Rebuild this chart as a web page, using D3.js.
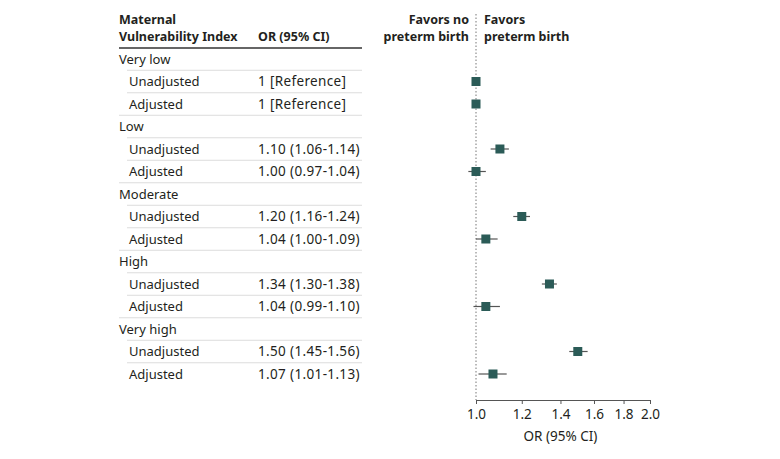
<!DOCTYPE html>
<head>
  <meta charset="utf-8">
  <script src="https://d3js.org/d3.v7.min.js"></script>
  <style>
    body { margin: 0; background: #fff; }
    svg { display: block; font-family: "Noto Sans", sans-serif; }
  </style>
</head>
<body>
  <svg width="780" height="459"></svg>
  <script>
    // data
    var groups = ["Very low", "Low", "Moderate", "High", "Very high"];
    var models = ["Unadjusted", "Adjusted"];
    var orValues = [1, 1, 1.10, 1.00, 1.20, 1.04, 1.34, 1.04, 1.50, 1.07];
    var ciLow = [null, null, 1.06, 0.97, 1.16, 1.00, 1.30, 0.99, 1.45, 1.01];
    var ciHigh = [null, null, 1.14, 1.04, 1.24, 1.09, 1.38, 1.10, 1.56, 1.13];
    var orLabels = ["1 [Reference]", "1 [Reference]", "1.10 (1.06-1.14)", "1.00 (0.97-1.04)",
      "1.20 (1.16-1.24)", "1.04 (1.00-1.09)", "1.34 (1.30-1.38)", "1.04 (0.99-1.10)",
      "1.50 (1.45-1.56)", "1.07 (1.01-1.13)"];
    var xTicks = [1.0, 1.2, 1.4, 1.6, 1.8, 2.0];

    // build rows: group heading then its two models
    var rows = [];
    var k = 0;
    groups.forEach(function(g) {
      rows.push({type: "group", label: g});
      models.forEach(function(m) {
        rows.push({type: "model", label: m, or: orValues[k], lo: ciLow[k], hi: ciHigh[k], text: orLabels[k]});
        k++;
      });
    });

    var svg = d3.select("svg");
    var ink = "#231f20";
    var teal = "#2b5b57";

    var y = d3.scaleLinear().domain([0, rows.length - 1]).range([59, 374]);
    var x = d3.scaleLog().domain([1, 2]).range([476, 650]);
    var step = y(1) - y(0);

    // table header
    var hdr = svg.append("g").attr("font-size", 12.5).attr("font-weight", "bold").attr("fill", ink);
    hdr.append("text").attr("x", 119).attr("y", 24).text("Maternal");
    hdr.append("text").attr("x", 119).attr("y", 41).text("Vulnerability Index");
    hdr.append("text").attr("x", 258).attr("y", 41).text("OR (95% CI)");
    svg.append("line").attr("x1", 119).attr("x2", 362).attr("y1", 48).attr("y2", 48)
      .attr("stroke", "#666").attr("stroke-width", 2);

    // separators
    rows.forEach(function(r, i) {
      if (i === rows.length - 1) return;
      var next = rows[i + 1];
      svg.append("line")
        .attr("x1", next.type === "group" ? 119 : 127).attr("x2", 362)
        .attr("y1", y(i) + step / 2).attr("y2", y(i) + step / 2)
        .attr("stroke", "#dcdcdc").attr("stroke-width", 1);
    });

    // row texts
    var rg = svg.append("g").attr("font-size", 13).attr("fill", ink);
    rg.selectAll("text.lab").data(rows).enter().append("text")
      .attr("x", function(d) { return d.type === "group" ? 119 : 129; })
      .attr("y", function(d, i) { return y(i) + 4.5; })
      .text(function(d) { return d.label; });
    rg.selectAll("text.or").data(rows.filter(function(d) { return d.type === "model"; })).enter().append("text")
      .attr("x", 258)
      .attr("y", function(d) { return y(rows.indexOf(d)) + 4.5; })
      .attr("font-size", 13.5).attr("letter-spacing", 0.35)
      .text(function(d) { return d.text; });

    // favors labels
    var fav = svg.append("g").attr("font-size", 12.5).attr("font-weight", "bold").attr("fill", ink);
    fav.append("text").attr("x", 469).attr("y", 24).attr("text-anchor", "end").text("Favors no");
    fav.append("text").attr("x", 469).attr("y", 41).attr("text-anchor", "end").text("preterm birth");
    fav.append("text").attr("x", 484).attr("y", 24).text("Favors");
    fav.append("text").attr("x", 484).attr("y", 41).text("preterm birth");

    // reference line
    svg.append("line").attr("x1", x(1)).attr("x2", x(1)).attr("y1", 14).attr("y2", 400)
      .attr("stroke", "#777").attr("stroke-width", 1).attr("stroke-dasharray", "1.5,2");

    // CIs and markers
    var pts = rows.map(function(d, i) { return {d: d, i: i}; }).filter(function(p) { return p.d.type === "model"; });
    svg.selectAll("line.ci").data(pts.filter(function(p) { return p.d.lo !== null; })).enter().append("line")
      .attr("x1", function(p) { return x(p.d.lo); })
      .attr("x2", function(p) { return x(p.d.hi); })
      .attr("y1", function(p) { return y(p.i); })
      .attr("y2", function(p) { return y(p.i); })
      .attr("stroke", "#555").attr("stroke-width", 1.2);
    svg.selectAll("rect.pt").data(pts).enter().append("rect")
      .attr("x", function(p) { return x(p.d.or) - 4.5; })
      .attr("y", function(p) { return y(p.i) - 4.5; })
      .attr("width", 9).attr("height", 9)
      .attr("fill", teal);

    // axis
    var axis = d3.axisBottom(x).tickValues(xTicks).tickFormat(d3.format(".1f")).tickSize(4).tickSizeOuter(0);
    var ag = svg.append("g").attr("transform", "translate(0,400)").call(axis);
    ag.select(".domain").attr("stroke", "#555");
    ag.selectAll(".tick line").attr("stroke", "#555");
    ag.selectAll(".tick text").attr("font-size", 13.5).attr("font-family", "Noto Sans, sans-serif")
      .attr("fill", ink).attr("dy", "0.9em");
    svg.append("text").attr("x", x(1.4)).attr("y", 441).attr("text-anchor", "middle")
      .attr("font-size", 13.5).attr("fill", ink).text("OR (95% CI)");
  </script>
</body>
</html>
